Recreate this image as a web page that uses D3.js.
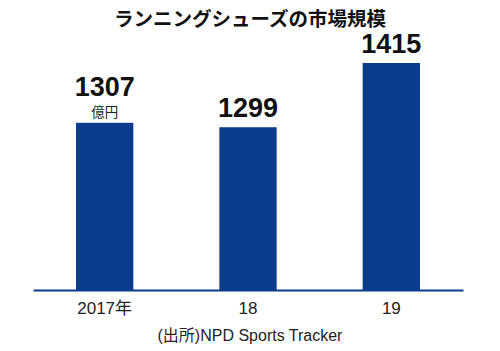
<!DOCTYPE html>
<html>
<head>
<meta charset="utf-8">
<script src="https://cdn.jsdelivr.net/npm/d3@7"></script>
<style>
  html, body { margin: 0; padding: 0; background: #fff; }
  svg { display: block; }
</style>
</head>
<body>
<div id="chart"></div>
<script>
// data
const years = ['2017年', '18', '19'];
const values = [1307, 1299, 1415];
const unitLabel = '億円';
const title = 'ランニングシューズの市場規模';
const source = '(出所)NPD Sports Tracker';

const width = 500,
    height = 351,
    baseline = 290,
    barColor = '#0b3c8c';

const $svg = d3.select('#chart').append('svg')
  .attr('width', width)
  .attr('height', height);

const xScale = d3.scaleBand()
  .domain(years)
  .range([33, 463])
  .paddingInner(0.6)
  .paddingOuter(0.3);

// axis doesn't start at zero in the original
const yScale = d3.scaleLinear()
  .domain([1005, 1415])
  .range([baseline, 63]);

$svg.append('text')
  .attr('x', 250)
  .attr('y', 26)
  .attr('text-anchor', 'middle')
  .style('font-family', '"Noto Sans CJK JP", sans-serif')
  .style('font-weight', 700)
  .style('font-size', '19.5px')
  .style('fill', '#111')
  .text(title);

$svg.selectAll('.bar')
  .data(values)
  .enter()
  .append('rect')
  .classed('bar', true)
  .attr('x', (d, i) => xScale(years[i]))
  .attr('width', xScale.bandwidth())
  .attr('y', d => yScale(d))
  .attr('height', d => baseline - yScale(d))
  .style('fill', barColor);

// value labels, the first one also carries the unit
$svg.selectAll('.value-label')
  .data(values)
  .enter()
  .append('text')
  .classed('value-label', true)
  .attr('x', (d, i) => xScale(years[i]) + xScale.bandwidth() / 2)
  .attr('y', (d, i) => i === 0 ? yScale(d) - 27 : yScale(d) - 10)
  .attr('text-anchor', 'middle')
  .style('font-family', '"Liberation Sans", Arial, sans-serif')
  .style('font-weight', 700)
  .style('font-size', '27px')
  .style('fill', '#111')
  .text(d => d);

$svg.append('text')
  .attr('x', xScale(years[0]) + xScale.bandwidth() / 2)
  .attr('y', yScale(values[0]) - 6)
  .attr('text-anchor', 'middle')
  .style('font-family', '"Noto Sans CJK JP", sans-serif')
  .style('font-size', '13.5px')
  .style('fill', '#222')
  .text(unitLabel);

const xAxis = d3.axisBottom(xScale)
  .tickSize(0)
  .tickPadding(12);

const $xAxisGroup = $svg.append('g')
  .attr('transform', `translate(0, ${baseline})`)
  .call(xAxis);

$xAxisGroup.select('.domain')
  .attr('stroke', barColor)
  .attr('stroke-width', 2);

$xAxisGroup.selectAll('text')
  .style('font-family', '"Liberation Sans", "Noto Sans CJK JP", sans-serif')
  .style('font-size', '17px')
  .style('fill', '#222');

$svg.append('text')
  .attr('x', 250)
  .attr('y', 341)
  .attr('text-anchor', 'middle')
  .style('font-family', '"Liberation Sans", "Noto Sans CJK JP", sans-serif')
  .style('font-size', '16px')
  .style('fill', '#222')
  .text(source);
</script>
</body>
</html>
